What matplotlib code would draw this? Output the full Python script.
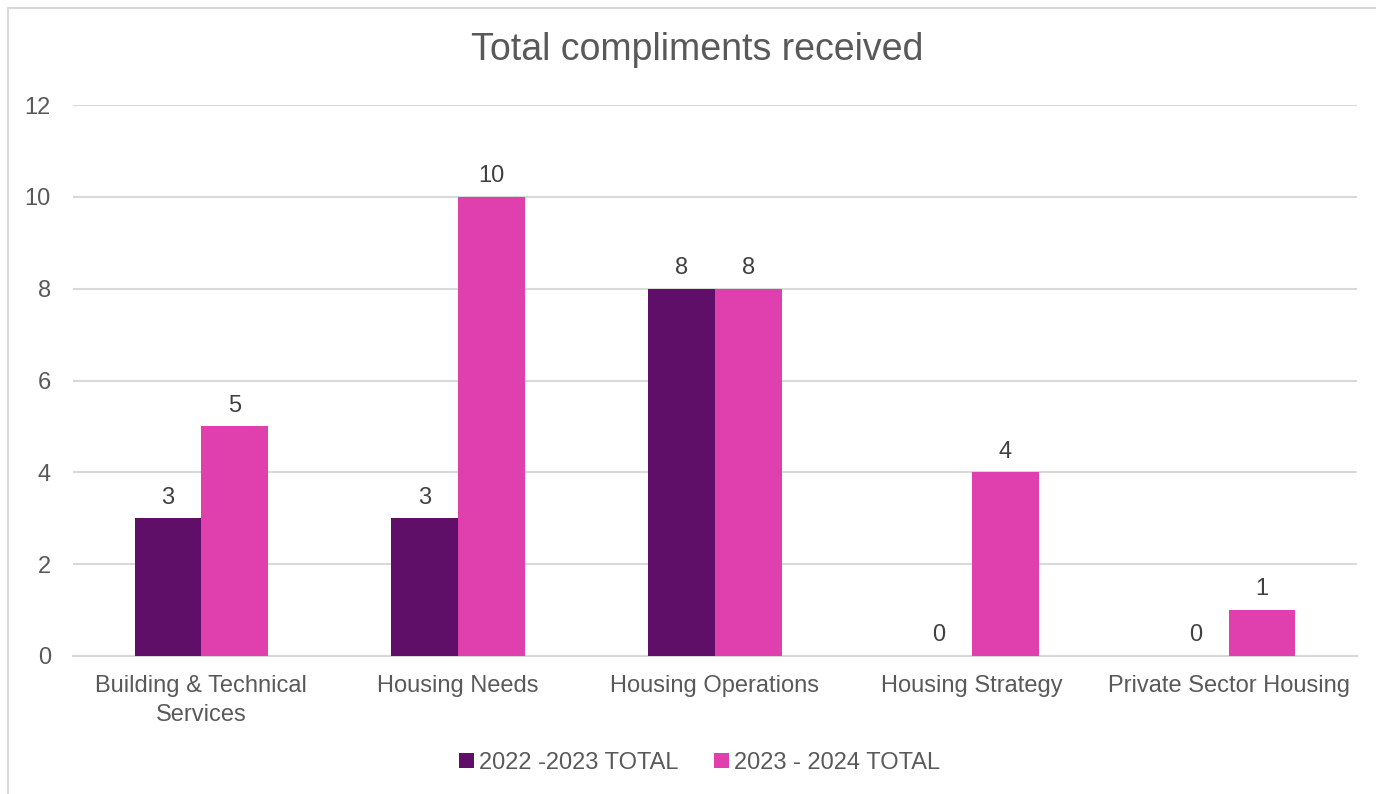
import matplotlib.pyplot as plt
import numpy as np
from matplotlib.patches import Rectangle

# data
categories = ["Building & Technical\nServices", "Housing Needs", "Housing Operations",
              "Housing Strategy", "Private Sector Housing"]
series_names = ["2022 -2023 TOTAL", "2023 - 2024 TOTAL"]
totals_2022_23 = [3, 3, 8, 0, 0]
totals_2023_24 = [5, 10, 8, 4, 1]
colors = ["#5F0F67", "#E040AE"]
text_color = "#595959"
grid_color = "#D9D9D9"

plt.rcParams['font.family'] = ['Liberation Sans', 'DejaVu Sans']

fig = plt.figure(figsize=(13.76, 7.94), dpi=100)
ax = fig.add_axes([73 / 1376, 1 - 656 / 794, (1357 - 73) / 1376, (656 - 105) / 794])

# chart border
fig.patches.append(Rectangle((8 / 1376, -0.1), 1.2, 1 - 8 / 794 + 0.1, transform=fig.transFigure,
                             fill=False, edgecolor="#D9D9D9", linewidth=1.5))

x = np.arange(len(categories))
w = 0.26
for i, (vals, name) in enumerate(zip([totals_2022_23, totals_2023_24], series_names)):
    pos = x + (i - 0.5) * w
    bars = ax.bar(pos, vals, width=w, color=colors[i], label=name, zorder=3)
    for b, v in zip(bars, vals):
        ax.annotate(str(v), (b.get_x() + b.get_width() / 2, v), xytext=(0, 7),
                    textcoords="offset points", ha="center", va="bottom",
                    fontsize=17, color="#404040")

ax.set_xlim(-0.5, len(categories) - 0.5)
ax.set_ylim(0, 12)
ax.set_yticks(range(0, 13, 2))
ax.set_xticks(x)
ax.set_xticklabels(categories, linespacing=1.4)
ax.tick_params(axis="both", length=0, labelsize=17, labelcolor=text_color)
ax.tick_params(axis="y", pad=16)
ax.tick_params(axis="x", pad=14)
ax.grid(axis="y", color=grid_color, linewidth=1.5, zorder=0)
for s in ["top", "right", "left"]:
    ax.spines[s].set_visible(False)
ax.spines["bottom"].set_color(grid_color)
ax.spines["bottom"].set_linewidth(1.5)

fig.text(697 / 1376, 1 - 50 / 794, "Total compliments received", ha="center", va="center",
         fontsize=27, color=text_color)

fig.legend(loc="center", bbox_to_anchor=(700 / 1376, 1 - 763 / 794), ncol=2, frameon=False,
           fontsize=17, labelcolor=text_color, handlelength=0.6, handleheight=0.6,
           handletextpad=0.25, columnspacing=1.5)

fig.savefig("out.png", dpi=100, facecolor="white")
